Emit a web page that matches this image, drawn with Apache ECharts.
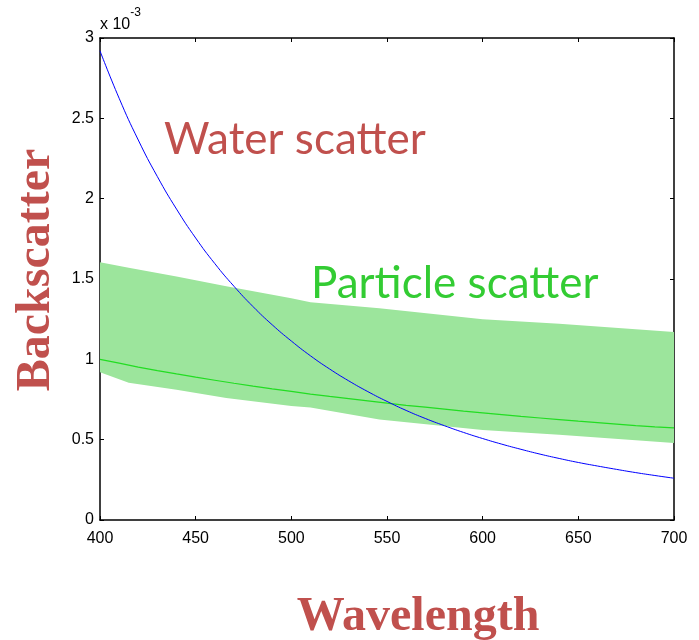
<!DOCTYPE html>
<html>
<head>
<meta charset="utf-8">
<script src="https://cdn.jsdelivr.net/npm/echarts@6/dist/echarts.min.js"></script>
<style>html,body{margin:0;padding:0;background:#fff}#c{width:699px;height:640px}</style>
</head>
<body>
<div id="c"></div>
<script>
// Wavelength (nm) and values in units of 1e-3
const wavelengths = [400,410,420,430,440,450,460,470,480,490,500,510,520,530,540,550,560,570,580,590,600,610,620,630,640,650,660,670,680,690,700];
const waterScatter = [2.920,2.625,2.365,2.137,1.935,1.755,1.596,1.455,1.328,1.215,1.114,1.022,0.940,0.866,0.799,0.738,0.682,0.632,0.587,0.545,0.507,0.472,0.440,0.410,0.383,0.358,0.336,0.315,0.295,0.277,0.260];
const particleMean = [1.000,0.976,0.952,0.930,0.909,0.889,0.870,0.851,0.833,0.816,0.800,0.784,0.769,0.755,0.741,0.727,0.714,0.702,0.690,0.678,0.667,0.656,0.645,0.635,0.625,0.615,0.606,0.597,0.588,0.580,0.573];
const bandX    = [400,415,440,466,500,510,546,600,640,700];
const bandLow  = [0.92,0.855,0.81,0.76,0.71,0.70,0.625,0.56,0.53,0.48];
const bandHigh = [1.605,1.57,1.515,1.455,1.38,1.355,1.318,1.25,1.222,1.17];
const xTicks = [400,450,500,550,600,650,700];
const yTicks = [0,0.5,1,1.5,2,2.5,3];

const chart = echarts.init(document.getElementById('c'), null, {renderer:'canvas'});
const pairs = (xs, ys) => xs.map((x,i)=>[x, ys[i]]);
const axisCommon = {
  axisLine:{show:true, onZero:false, lineStyle:{color:'#000', width:1.5}},
  axisTick:{show:true, inside:true, length:4, lineStyle:{color:'#000', width:1}},
  splitLine:{show:false}
};
chart.setOption({
  animation:false,
  backgroundColor:'#fff',
  grid:{left:100, top:38, width:574, height:482, containLabel:false},
  xAxis:[
    Object.assign({type:'value', min:xTicks[0], max:xTicks[xTicks.length-1], interval:50, position:'bottom',
      axisLabel:{color:'#000', fontFamily:'Liberation Sans', fontSize:16, margin:11}}, axisCommon),
    Object.assign({type:'value', min:xTicks[0], max:xTicks[xTicks.length-1], interval:50, position:'top',
      axisLabel:{show:false}}, axisCommon)
  ],
  yAxis:[
    Object.assign({type:'value', min:yTicks[0], max:yTicks[yTicks.length-1], interval:0.5, position:'left',
      axisLabel:{color:'#000', fontFamily:'Liberation Sans', fontSize:16, margin:6}}, axisCommon),
    Object.assign({type:'value', min:yTicks[0], max:yTicks[yTicks.length-1], interval:0.5, position:'right',
      axisLabel:{show:false}}, axisCommon)
  ],
  series:[
    {type:'custom', coordinateSystem:'cartesian2d', data:[[bandX[0], bandLow[0]]], z:1, silent:true,
      renderItem:function(params, api){
        const pts = [];
        for (let i=0;i<bandX.length;i++) pts.push(api.coord([bandX[i], bandHigh[i]]));
        for (let i=bandX.length-1;i>=0;i--) pts.push(api.coord([bandX[i], bandLow[i]]));
        return {type:'polygon', shape:{points:pts}, style:{fill:'#9ce59c', stroke:null}};
      }},
    {type:'line', data:pairs(wavelengths, particleMean), symbol:'none', lineStyle:{color:'#22dd22', width:1.2}, z:3},
    {type:'line', data:pairs(wavelengths, waterScatter), symbol:'none', smooth:true, lineStyle:{color:'#0000ff', width:1}, z:4}
  ],
  graphic:[
    {type:'text', left:100, top:7, style:{text:'{a|x 10}{b|-3}', rich:{
      a:{fontFamily:'Liberation Sans', fontSize:16, fill:'#000', verticalAlign:'bottom', padding:[10,0,0,0]},
      b:{fontFamily:'Liberation Sans', fontSize:12, fill:'#000', verticalAlign:'top'}}}},
    {type:'text', x:164, y:140, style:{text:'Water scatter', fontFamily:'Lato', fontSize:44, fill:'#c0504d', verticalAlign:'middle', align:'left'}},
    {type:'text', x:311, y:284, style:{text:'Particle scatter', fontFamily:'Lato', fontSize:44, fill:'#33cc33', verticalAlign:'middle', align:'left'}},
    {type:'text', x:418, y:618, style:{text:'Wavelength', fontFamily:'Liberation Serif', fontWeight:'bold', fontSize:48, fill:'#c0504d', align:'center', verticalAlign:'middle'}},
    {type:'text', x:37, y:270, rotation:Math.PI/2, style:{text:'Backscatter', fontFamily:'Liberation Serif', fontWeight:'bold', fontSize:48, fill:'#c0504d', align:'center', verticalAlign:'middle'}}
  ]
});
</script>
</body>
</html>
